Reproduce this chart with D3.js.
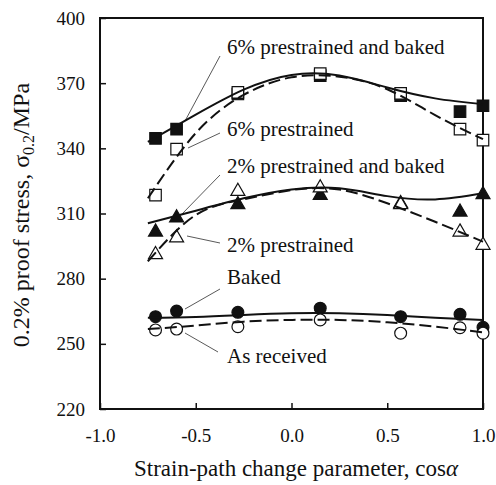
<!DOCTYPE html>
<html><head><meta charset="utf-8">
<script src="https://cdn.jsdelivr.net/npm/d3@7"></script>
<style>body{margin:0;background:#fff}svg{display:block}text{font-family:"Liberation Serif","Times New Roman",serif;fill:#111}</style>
</head><body><svg id="c" width="496" height="485"></svg>
<script>
// measured points
const cosA = [-0.71, -0.6, -0.28, 0.15, 0.57, 0.88, 1.0];
const sixPB = [344.6, 348.8, 365, 373.5, 364.2, 356.9, 359.6];
const sixP = [318.5, 339.6, 365.8, 374.4, 365.3, 348.8, 343.8];
const twoPB = [302.4, 308.9, 315, 319.3, 315.5, 311.6, 319.6];
const twoP = [292, 299.7, 321.1, 322.7, 315, 302.4, 296.3];
const baked = [262.5, 265.1, 264.5, 266.4, 262.5, 263.6, 257.6];
const asRec = [256.4, 256.8, 257.9, 261, 254.9, 257.4, 254.9];
// trend curves
const fitX = [-0.75, -0.5, -0.25, 0, 0.25, 0.5, 0.75, 1.0];
const fit6PB = [343, 355.5, 367, 373.8, 373.5, 368, 363, 360.3];
const fit6P = [317, 347, 364.6, 372.7, 373, 367.2, 355.3, 344.2];
const fit2PB = [305.5, 311.3, 317, 321.1, 321.6, 318, 316.5, 319.3];
const fit2P = [288, 309.3, 316.5, 320.8, 321, 314.7, 306.2, 297];
const fitBaked = [262, 262.4, 263.3, 264.1, 264.1, 263.3, 262, 261];
const fitAsRec = [256.8, 258.4, 260.2, 261, 261, 259.9, 257.9, 255.3];
const xTicks = [-1.0, -0.5, 0.0, 0.5, 1.0];
const yTicks = [220, 250, 280, 310, 340, 370, 400];
const labels = ["6% prestrained and baked","6% prestrained","2% prestrained and baked","2% prestrained","Baked","As received"];

const series = [
 {v: sixPB, f: fit6PB, sym: "square", filled: true, dash: false},
 {v: sixP, f: fit6P, sym: "square", filled: false, dash: true},
 {v: twoPB, f: fit2PB, sym: "triangle", filled: true, dash: false},
 {v: twoP, f: fit2P, sym: "triangle", filled: false, dash: true},
 {v: baked, f: fitBaked, sym: "circle", filled: true, dash: false},
 {v: asRec, f: fitAsRec, sym: "circle", filled: false, dash: true}
];

const L = 100, R = 483, T = 18, B = 409;
const x = d3.scaleLinear().domain([-1, 1]).range([L, R]);
const y = d3.scaleLinear().domain([220, 400]).range([B, T]);
const svg = d3.select("#c");
const FONT = "'Liberation Serif', 'Times New Roman', serif";

// axes box
svg.append("rect").attr("x", L).attr("y", T).attr("width", R - L).attr("height", B - T)
  .attr("fill", "none").attr("stroke", "#111").attr("stroke-width", 2);

const xAxis = d3.axisBottom(x).tickValues(xTicks).tickSize(-6).tickPadding(20).tickFormat(d => d.toFixed(1));
const gx = svg.append("g").attr("transform", `translate(0,${B})`).call(xAxis);
gx.attr("font-family", FONT);
gx.select(".domain").remove();
gx.selectAll(".tick line").attr("stroke", "#111").attr("stroke-width", 1.5);
gx.selectAll(".tick text").attr("font-size", 19).attr("fill", "#111");

const yAxis = d3.axisLeft(y).tickValues(yTicks).tickSize(-6).tickPadding(15).tickFormat(d3.format("d"));
const gy = svg.append("g").attr("transform", `translate(${L},0)`).call(yAxis);
gy.attr("font-family", FONT);
gy.select(".domain").remove();
gy.selectAll(".tick line").attr("stroke", "#111").attr("stroke-width", 1.5);
gy.selectAll(".tick text").attr("font-size", 19).attr("fill", "#111");

// markers
const symSize = {square: 132, triangle: 85, circle: 110};
const symType = {square: d3.symbolSquare, triangle: d3.symbolTriangle, circle: d3.symbolCircle};
const symDy = {square: 0, triangle: 2, circle: 0};
const order = [0, 2, 4, 1, 3, 5];
order.forEach(si => {
  const s = series[si];
  const gen = d3.symbol().type(symType[s.sym]).size(symSize[s.sym]);
  svg.append("g").selectAll("path").data(s.v).join("path")
    .attr("d", gen)
    .attr("transform", (d, i) => `translate(${x(cosA[i])},${y(d) + symDy[s.sym]})`)
    .attr("fill", s.filled ? "#111" : "#fff")
    .attr("stroke", "#111").attr("stroke-width", 1.2);
});

// trend curves
series.forEach(s => {
  svg.append("path").datum(s.f)
    .attr("d", d3.line().x((d, i) => x(fitX[i])).y(d => y(d)).curve(d3.curveNatural))
    .attr("fill", "none").attr("stroke", "#111").attr("stroke-width", 2)
    .attr("stroke-dasharray", s.dash ? "12,5" : null);
});

// labels with leader lines
const labelPos = [[227, 54], [227, 136], [227, 173], [227, 252], [227, 284], [227, 363]];
const leaders = [[220, 56, 185, 121], [220, 133, 188, 148], [220, 175, 182, 214],
                 [220, 243, 187, 236], [220, 289, 185, 309], [218, 352, 185, 333]];
leaders.forEach(l => svg.append("line").attr("x1", l[0]).attr("y1", l[1]).attr("x2", l[2]).attr("y2", l[3])
  .attr("stroke", "#111").attr("stroke-width", 0.7));
labels.forEach((t, i) => svg.append("text").attr("x", labelPos[i][0]).attr("y", labelPos[i][1])
  .attr("font-family", FONT).attr("font-size", 21).text(t));

// axis titles
const xt = svg.append("text").attr("x", 296).attr("y", 476).attr("text-anchor", "middle")
  .attr("font-family", FONT).attr("font-size", 23);
xt.append("tspan").text("Strain-path change parameter, cos");
xt.append("tspan").attr("font-style", "italic").text("α");

const yt = svg.append("text").attr("transform", "translate(29,215) rotate(-90)").attr("text-anchor", "middle")
  .attr("font-family", FONT).attr("font-size", 24);
yt.append("tspan").text("0.2% proof stress, σ");
yt.append("tspan").attr("font-size", 16).attr("dy", 5).text("0.2");
yt.append("tspan").attr("dy", -5).text("/MPa");
</script></body></html>
